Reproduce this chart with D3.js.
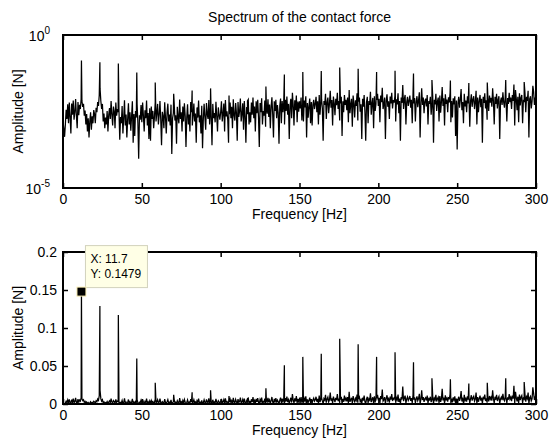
<!DOCTYPE html>
<html>
<head>
<meta charset="utf-8">
<script src="https://cdn.jsdelivr.net/npm/d3@7"></script>
<style>
  body { margin: 0; background: #fff; }
  svg { display: block; font-family: "Liberation Sans", Arial, Helvetica, sans-serif; }
</style>
</head>
<body>
<svg id="fig" width="549" height="447"></svg>
<script>
// spectrum noise floor, one value every 0.5 Hz from 0 to 300 Hz, in units of 1e-5 N
const noiseStep = 0.5;
const noiseE5 = [
  150, 90, 47, 120, 360, 180, 540, 130, 620, 210, 60, 580, 250, 720, 170, 300, 810, 230, 90, 650,
  240, 520, 380, 800, 700, 450, 560, 230, 340, 120, 260, 70, 190, 45, 150, 300, 80, 220, 130, 350,
  260, 130, 420, 300, 650, 480, 1100, 1800, 700, 380, 560, 150, 270, 90, 200, 120, 330, 70, 240, 410,
  180, 700, 250, 110, 460, 320, 90, 620, 230, 380, 300, 350, 38, 210, 130, 480, 60, 190, 740, 110,
  250, 45, 170, 590, 120, 300, 75, 220, 680, 30, 260, 50, 330, 200, 560, 130, 9, 240, 170, 510,
  140, 620, 230, 70, 350, 190, 720, 110, 280, 40, 400, 35, 460, 180, 330, 90, 210, 650, 150, 280,
  560, 120, 240, 700, 170, 25, 310, 220, 90, 630, 200, 60, 290, 570, 150, 250, 110, 530, 13, 190,
  280, 620, 160, 240, 28, 450, 210, 130, 780, 180, 300, 70, 460, 150, 590, 230, 22, 200, 540, 120,
  250, 70, 640, 300, 110, 220, 580, 150, 270, 30, 430, 200, 720, 140, 240, 60, 490, 20, 180, 560,
  210, 80, 600, 260, 180, 750, 120, 410, 230, 25, 560, 190, 280, 140, 660, 220, 70, 430, 250, 170,
  300, 680, 150, 260, 580, 70, 750, 220, 320, 170, 30, 260, 620, 190, 450, 90, 800, 240, 160, 600,
  280, 35, 650, 210, 330, 840, 150, 270, 590, 80, 700, 230, 30, 440, 260, 780, 120, 300, 140, 620,
  250, 900, 190, 460, 70, 680, 280, 760, 210, 22, 600, 300, 850, 120, 330, 230, 720, 100, 480, 270,
  800, 210, 530, 90, 450, 920, 260, 45, 680, 330, 760, 190, 510, 280, 28, 490, 840, 130, 700, 300,
  620, 120, 760, 330, 980, 250, 560, 40, 480, 820, 190, 1300, 510, 110, 730, 350, 1050, 140, 670, 310,
  680, 400, 900, 160, 550, 150, 720, 430, 1000, 45, 600, 200, 480, 840, 130, 650, 110, 520, 760, 380,
  560, 950, 300, 680, 120, 1100, 250, 620, 800, 400, 35, 700, 520, 1200, 180, 640, 900, 280, 560, 1500,
  420, 750, 110, 980, 600, 240, 820, 510, 1300, 380, 700, 160, 580, 950, 50, 680, 300, 1100, 520, 760,
  350, 900, 140, 1600, 280, 540, 820, 100, 1050, 600, 200, 730, 480, 1250, 160, 660, 900, 310, 550, 40,
  820, 450, 1100, 300, 35, 640, 950, 130, 700, 520, 1400, 250, 600, 880, 90, 1000, 330, 560, 750, 1200,
  480, 820, 140, 1050, 640, 1900, 380, 560, 900, 40, 720, 1150, 450, 680, 180, 980, 580, 1300, 400, 750,
  620, 1000, 150, 800, 540, 1250, 280, 700, 35, 900, 600, 2300, 380, 820, 1100, 120, 640, 950, 480, 720,
  1050, 420, 760, 130, 1200, 580, 880, 150, 650, 1000, 440, 720, 1350, 45, 600, 1800, 520, 900, 280, 680,
  830, 460, 1100, 120, 700, 560, 950, 250, 620, 1000, 30, 760, 540, 1200, 330, 680, 900, 150, 1050, 290,
  640, 2000, 480, 850, 110, 1150, 560, 780, 300, 920, 620, 1300, 140, 700, 200, 860, 540, 1000, 50, 720,
  18, 600, 950, 420, 780, 1700, 350, 640, 130, 1200, 460, 720, 300, 1000, 580, 860, 100, 700, 1150, 450,
  780, 1000, 380, 640, 1500, 120, 900, 300, 700, 1100, 440, 820, 30, 960, 600, 1250, 400, 740, 170, 880,
  330, 1050, 620, 880, 450, 1800, 700, 120, 950, 560, 1200, 400, 760, 1000, 40, 680, 900, 520, 1350, 620,
  420, 1000, 760, 150, 880, 560, 1300, 640, 900, 380, 1100, 700, 2400, 110, 1600, 820, 350, 960, 140, 1250,
  500, 880, 1100, 130, 760, 640, 1300, 300, 950, 700, 1500, 45, 820, 1000, 400, 680, 2200, 1400, 520, 900,
  760
];

// harmonics of the 11.7 Hz excitation
const peakFreqs = [11.7, 23.4, 35.1, 46.8, 58.5, 70.2, 81.9, 93.6, 105.3, 117.0, 128.7, 140.4, 152.1,
  163.8, 175.5, 187.2, 198.9, 210.6, 222.3, 234.0, 245.7, 257.4, 269.1, 280.8, 292.5];
const peakAmps = [0.1479, 0.129, 0.117, 0.060, 0.028, 0.012, 0.0154, 0.018, 0.0105, 0.007, 0.0206, 0.051, 0.062,
  0.066, 0.086, 0.0785, 0.062, 0.068, 0.055, 0.034, 0.0325, 0.027, 0.028, 0.034, 0.029];

const xTicks = [0, 50, 100, 150, 200, 250, 300];
const logTicks = [1e-5, 1];
const logTickExp = ['-5', '0'];
const linTicks = [0, 0.05, 0.1, 0.15, 0.2];
const linTickLabels = ['0', '0.05', '0.1', '0.15', '0.2'];

const cursorX = 11.7;
const cursorY = 0.1479;

const titleText = 'Spectrum of the contact force';
const xLabel = 'Frequency [Hz]';
const yLabel = 'Amplitude [N]';

const svg = d3.select('#fig');
const fontSize = 14;

const series = noiseE5.map((v, i) => ({ f: i * noiseStep, a: v * 1e-5 }))
  .concat(peakFreqs.map((f, i) => ({ f, a: peakAmps[i] })))
  .sort((p, q) => p.f - q.f);

function drawPanel(box, yScale, id) {
  const x = d3.scaleLinear().domain([0, 300]).range([box.left, box.right]);
  const g = svg.append('g');

  g.append('clipPath').attr('id', id)
    .append('rect')
    .attr('x', box.left).attr('y', box.top)
    .attr('width', box.right - box.left).attr('height', box.bottom - box.top);

  const line = d3.line()
    .x(d => x(d.f))
    .y(d => yScale(d.a));

  g.append('path')
    .datum(series)
    .attr('clip-path', `url(#${id})`)
    .attr('d', line)
    .attr('fill', 'none')
    .attr('stroke', '#000')
    .attr('stroke-width', 1.25);

  // ticks pointing inward on bottom and top edges
  const bottomAxis = g.append('g')
    .attr('transform', `translate(0,${box.bottom})`)
    .call(d3.axisBottom(x).tickValues(xTicks).tickSizeInner(-5).tickSizeOuter(0).tickPadding(6));
  g.append('g')
    .attr('transform', `translate(0,${box.top})`)
    .call(d3.axisTop(x).tickValues(xTicks).tickSizeInner(-5).tickSizeOuter(0).tickFormat(''));

  g.selectAll('.domain').remove();
  g.selectAll('.tick line').attr('stroke', '#000').attr('stroke-width', 1.5);
  bottomAxis.selectAll('text')
    .attr('fill', '#000')
    .attr('font-size', fontSize)
    .attr('font-family', null);

  g.append('rect')
    .attr('x', box.left).attr('y', box.top)
    .attr('width', box.right - box.left).attr('height', box.bottom - box.top)
    .attr('fill', 'none')
    .attr('stroke', '#000')
    .attr('stroke-width', 2);

  g.append('text')
    .attr('x', (box.left + box.right) / 2)
    .attr('y', box.bottom + 31)
    .attr('text-anchor', 'middle')
    .attr('font-size', fontSize)
    .text(xLabel);

  g.append('text')
    .attr('transform', `translate(23,${(box.top + box.bottom) / 2}) rotate(-90)`)
    .attr('text-anchor', 'middle')
    .attr('font-size', fontSize)
    .text(yLabel);

  return { g, x };
}

// upper panel: log amplitude
const topBox = { left: 63, right: 536, top: 35, bottom: 188 };
const yLog = d3.scaleLog().domain([1e-5, 1]).range([topBox.bottom, topBox.top]);
const topPanel = drawPanel(topBox, yLog, 'clipTop');

const logLabels = topPanel.g.selectAll('.loglab')
  .data(logTicks)
  .enter()
  .append('text')
  .attr('class', 'loglab')
  .attr('x', topBox.left - 13)
  .attr('y', d => yLog(d) + 6)
  .attr('text-anchor', 'end')
  .attr('font-size', fontSize);
logLabels.append('tspan').text('10');
logLabels.append('tspan')
  .attr('dy', -7)
  .attr('font-size', 10)
  .text((d, i) => logTickExp[i]);

svg.append('text')
  .attr('x', (topBox.left + topBox.right) / 2)
  .attr('y', 22)
  .attr('text-anchor', 'middle')
  .attr('font-size', fontSize)
  .text(titleText);

// lower panel: linear amplitude
const botBox = { left: 63, right: 536, top: 252, bottom: 404 };
const yLin = d3.scaleLinear().domain([0, 0.2]).range([botBox.bottom, botBox.top]);
const botPanel = drawPanel(botBox, yLin, 'clipBot');

const yAxisL = botPanel.g.append('g')
  .attr('transform', `translate(${botBox.left},0)`)
  .call(d3.axisLeft(yLin).tickValues(linTicks).tickSizeInner(-5).tickSizeOuter(0).tickPadding(6)
    .tickFormat((d, i) => linTickLabels[i]));
botPanel.g.append('g')
  .attr('transform', `translate(${botBox.right},0)`)
  .call(d3.axisRight(yLin).tickValues(linTicks).tickSizeInner(-5).tickSizeOuter(0).tickFormat(''));
botPanel.g.selectAll('.domain').remove();
botPanel.g.selectAll('.tick line').attr('stroke', '#000').attr('stroke-width', 1.5);
yAxisL.selectAll('text')
  .attr('fill', '#000')
  .attr('font-size', fontSize)
  .attr('font-family', null);

// data cursor
const cx = botPanel.x(cursorX);
const cy = yLin(cursorY);
const tip = botPanel.g.append('g');
tip.append('rect')
  .attr('x', cx + 4).attr('y', cy - 46)
  .attr('width', 62).attr('height', 42)
  .attr('fill', '#ffffe6')
  .attr('stroke', '#d2d2bc')
  .attr('stroke-width', 1);
tip.append('text')
  .attr('x', cx + 9).attr('y', cy - 29)
  .attr('font-size', 12)
  .text(`X: ${cursorX}`);
tip.append('text')
  .attr('x', cx + 9).attr('y', cy - 14)
  .attr('font-size', 12)
  .text(`Y: ${cursorY}`);
tip.append('rect')
  .attr('x', cx - 4.5).attr('y', cy - 4.5)
  .attr('width', 9).attr('height', 9)
  .attr('fill', '#000')
  .attr('stroke', '#fff3b8')
  .attr('stroke-width', 1);
</script>
</body>
</html>
